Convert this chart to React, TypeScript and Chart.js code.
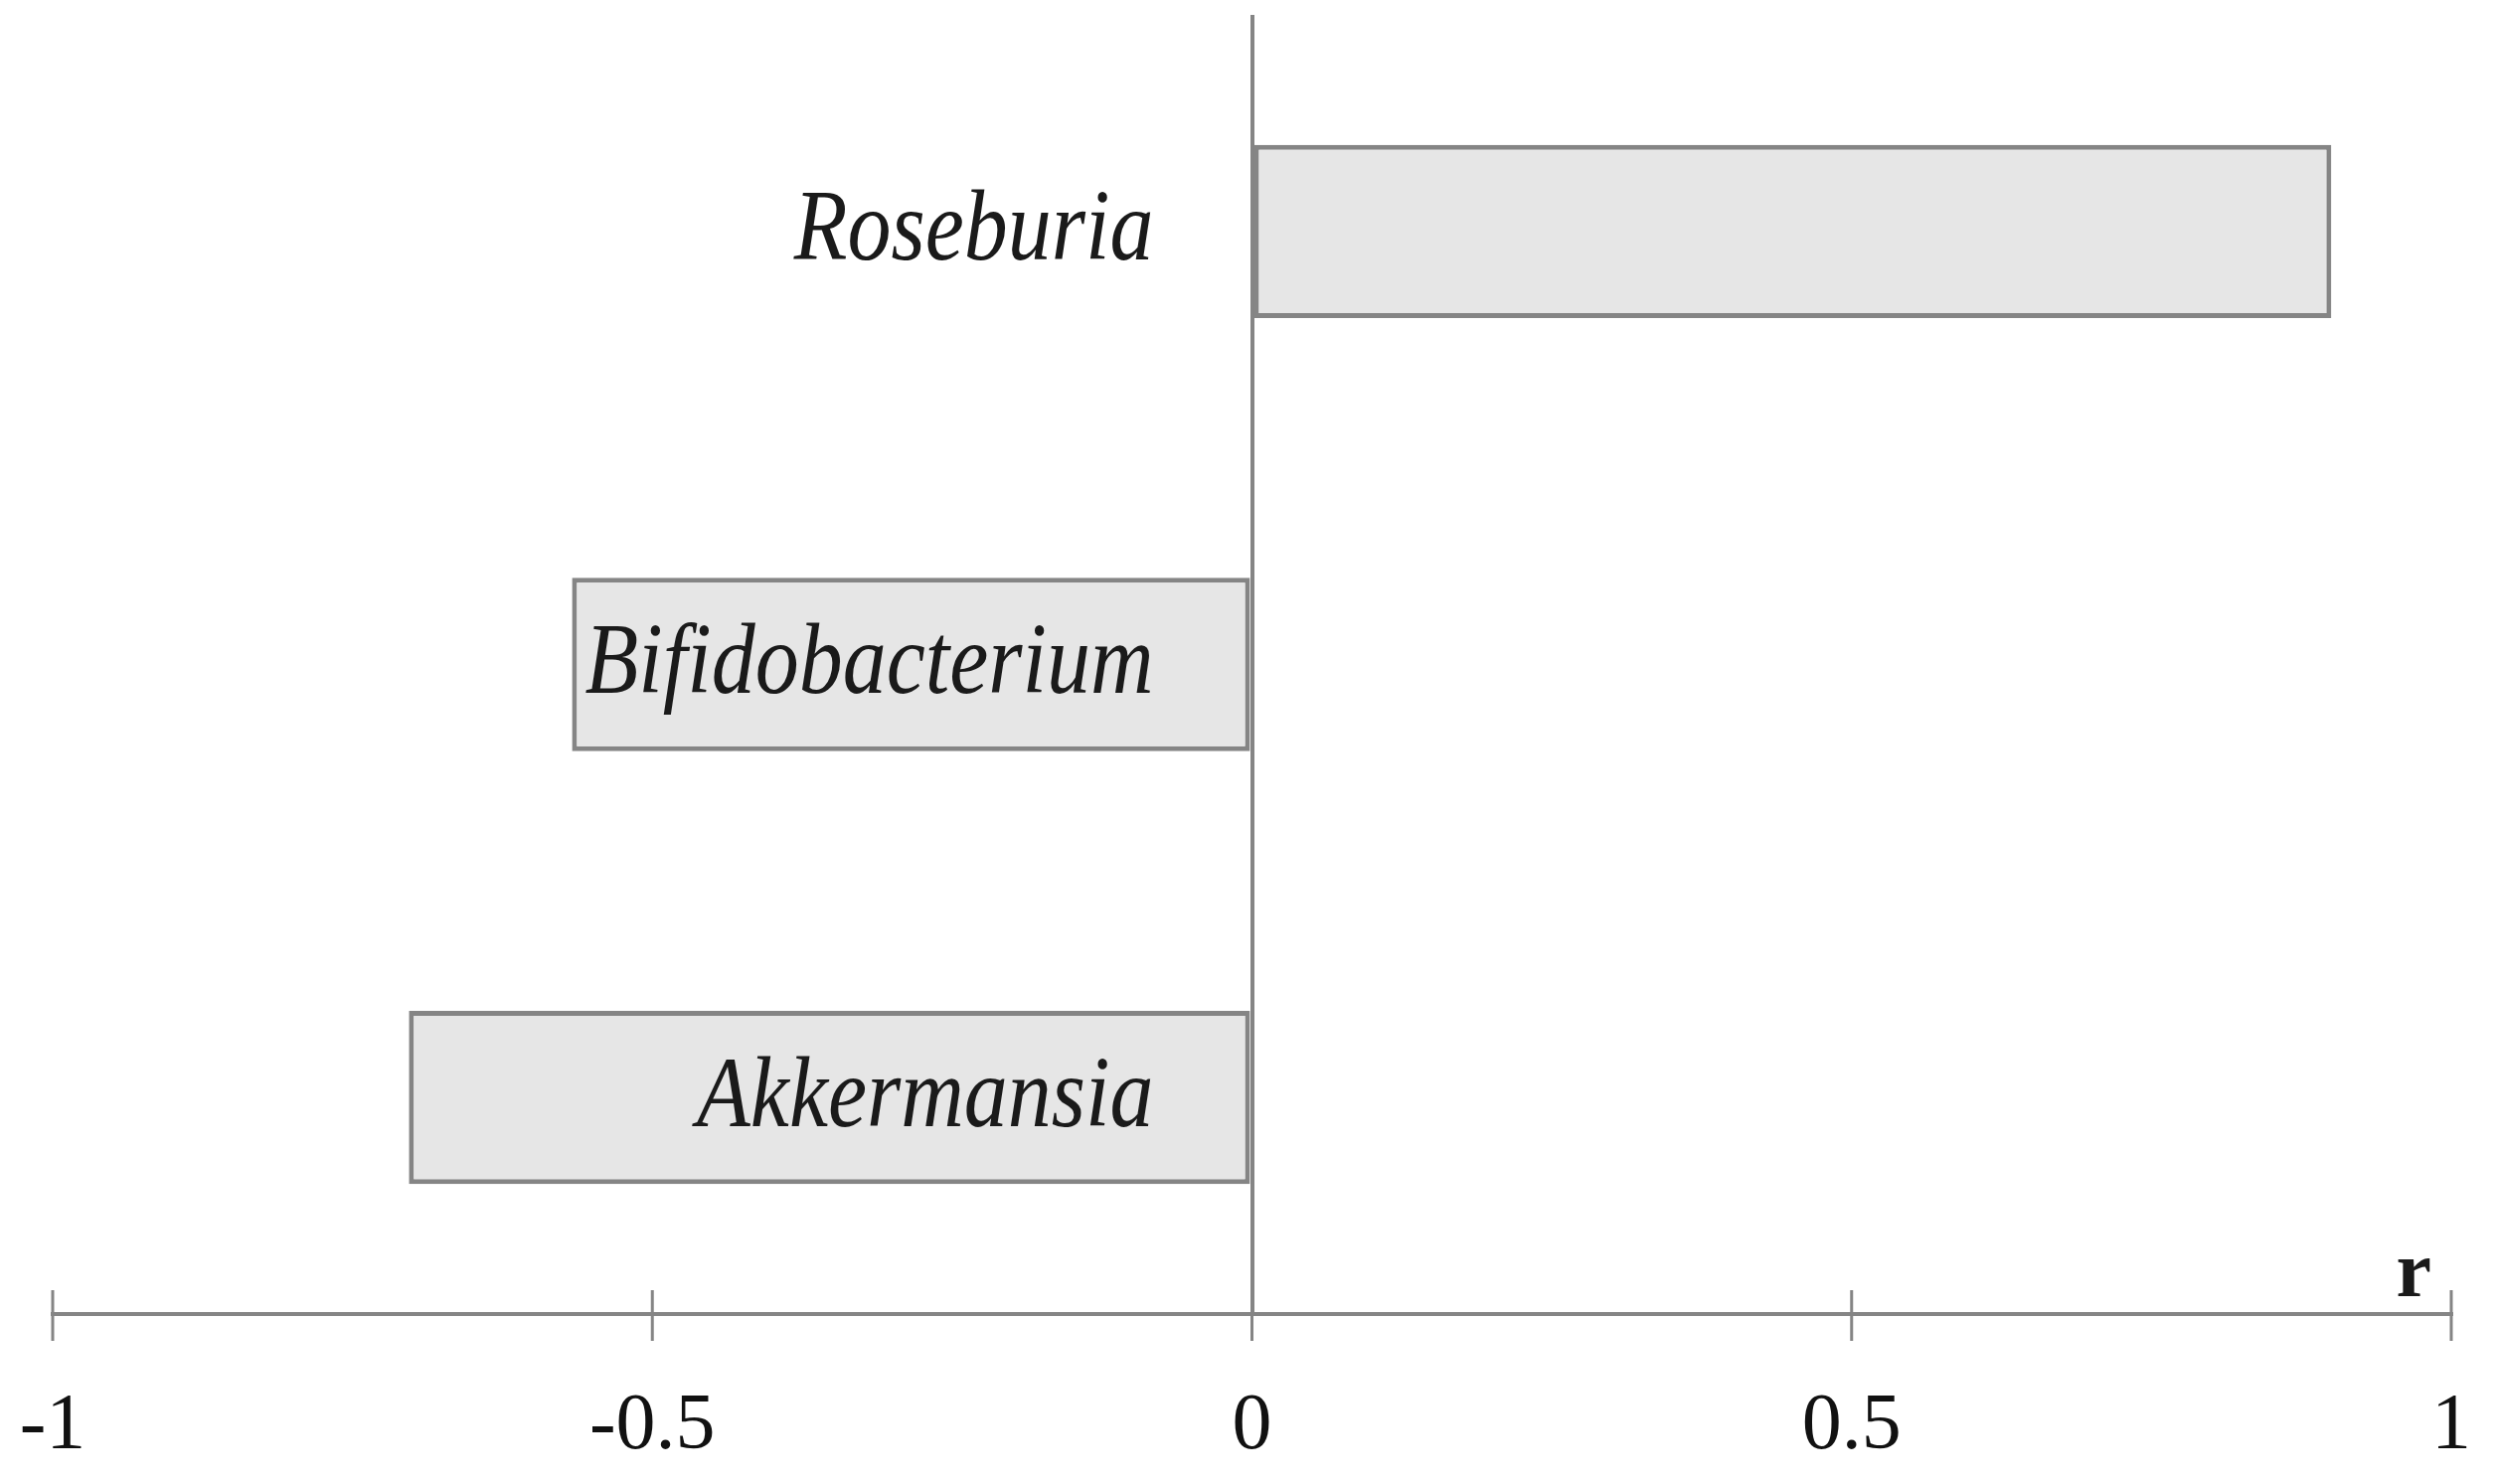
import React, { useEffect, useRef } from "react";
import { Chart, registerables } from "chart.js";

Chart.register(...registerables);

const categories = ["Roseburia", "Bifidobacterium", "Akkermansia"];
const rValues = [0.9, -0.567, -0.703];
const xTickMin = -1;
const xTickMax = 1;
const xTickStep = 0.5;
const axisTitle = "r";

const GRAY = "#858585";

const overlayPlugin = {
  id: "overlay",
  afterDraw(chart: any) {
    const { ctx, chartArea } = chart;
    const xs = chart.scales.x;
    const ys = chart.scales.y;
    ctx.save();
    // cross tick marks on the x axis
    ctx.strokeStyle = GRAY;
    ctx.lineWidth = 3;
    xs.ticks.forEach((t: any) => {
      const px = xs.getPixelForValue(t.value);
      ctx.beginPath();
      ctx.moveTo(px, chartArea.bottom - 24);
      ctx.lineTo(px, chartArea.bottom + 27);
      ctx.stroke();
    });
    // category labels, right-aligned left of the zero line
    ctx.fillStyle = "#1a1a1a";
    ctx.font = "italic 88px 'Liberation Serif', serif";
    ctx.textAlign = "right";
    ctx.textBaseline = "middle";
    const zeroX = xs.getPixelForValue(0);
    categories.forEach((c, i) => {
      const py = ys.getPixelForValue(i);
      ctx.save();
      ctx.translate(zeroX - 99, py + 2);
      ctx.scale(1, 1.15);
      ctx.fillText(c, 0, 0);
      ctx.restore();
    });
    // axis title "r"
    ctx.font = "bold 80px 'Liberation Serif', serif";
    ctx.textAlign = "right";
    ctx.textBaseline = "alphabetic";
    ctx.fillText(axisTitle, xs.getPixelForValue(xTickMax) - 20, chartArea.bottom - 18);
    ctx.restore();
  },
};

export default function App() {
  const ref = useRef<HTMLCanvasElement | null>(null);
  useEffect(() => {
    if (!ref.current) return;
    const chart = new Chart(ref.current, {
      type: "bar",
      data: {
        labels: categories,
        datasets: [
          {
            data: rValues,
            backgroundColor: "#e6e6e6",
            borderColor: GRAY,
            borderWidth: 5,
            borderSkipped: false,
            barPercentage: 0.8,
            categoryPercentage: 0.5,
          },
        ],
      },
      options: {
        indexAxis: "y",
        animation: false,
        responsive: true,
        maintainAspectRatio: false,
        layout: { padding: { left: 53, right: 43, top: 15, bottom: 0 } },
        plugins: {
          legend: { display: false },
          tooltip: { enabled: false },
        },
        scales: {
          x: {
            type: "linear",
            min: xTickMin,
            max: xTickMax,
            afterFit: (s: any) => {
              s.height = 171;
              s.paddingLeft = 0;
              s.paddingRight = 0;
            },
            ticks: {
              stepSize: xTickStep,
              padding: 66,
              maxRotation: 0,
              minRotation: 0,
              color: "#111",
              font: { family: "'Liberation Serif', serif", size: 80 },
              callback: (v: any) => String(Math.round(Number(v) * 10) / 10),
            },
            grid: {
              drawTicks: false,
              lineWidth: 4,
              color: (c: any) => (c.tick && c.tick.value === 0 ? GRAY : "rgba(0,0,0,0)"),
            },
            border: { display: true, color: GRAY, width: 4 },
          },
          y: {
            type: "category",
            display: false,
          },
        },
      },
      plugins: [overlayPlugin],
    });
    return () => chart.destroy();
  }, []);
  return (
    <div style={{ position: "absolute", left: 0, top: 0, width: 2509, height: 1493, background: "#fff" }}>
      <canvas ref={ref} />
    </div>
  );
}
